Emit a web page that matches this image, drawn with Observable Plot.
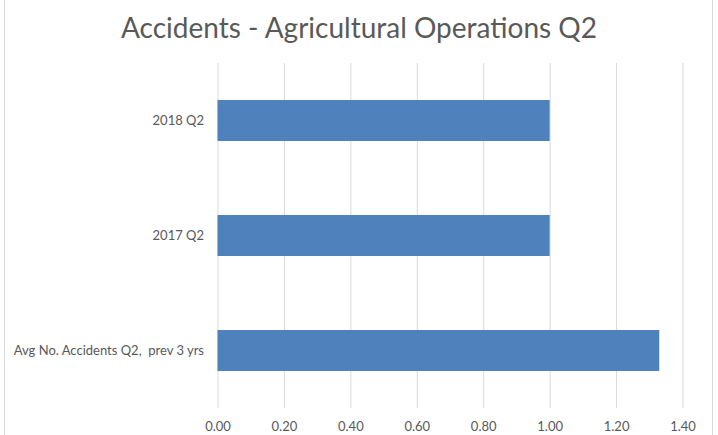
<!DOCTYPE html>
<html>
<head>
<meta charset="utf-8">
<script src="https://cdn.jsdelivr.net/npm/d3@7"></script>
<script src="https://cdn.jsdelivr.net/npm/@observablehq/plot@0.6"></script>
<style>
  html, body { margin: 0; padding: 0; background: #fff; }
  #wrap { position: relative; width: 718px; height: 435px; overflow: hidden; background: #fff; }
  #frame { position: absolute; left: 4px; top: 0; width: 709px; height: 435px;
           border-left: 1px solid #d9d9d9; border-right: 1px solid #d9d9d9; box-sizing: border-box; }
  #title { position: absolute; left: 0; top: 0; width: 718px; height: 55px; text-align: center;
           font-family: Lato, "Open Sans", sans-serif; font-size: 28px; color: #595959; line-height: 55px; }
  #chart { position: absolute; left: 0; top: 55px; }
</style>
</head>
<body>
<div id="wrap">
  <div id="frame"></div>
  <div id="title">Accidents - Agricultural Operations Q2</div>
  <div id="chart"></div>
</div>
<script>
const categories = ["2018 Q2", "2017 Q2", "Avg No. Accidents Q2,  prev 3 yrs"];
const values = [1.00, 1.00, 1.33];
const xTicks = [0, 0.2, 0.4, 0.6, 0.8, 1.0, 1.2, 1.4];

const data = categories.map((c, i) => ({category: c, value: values[i]}));

const chart = Plot.plot({
  width: 718,
  height: 380,
  marginLeft: 217.5,
  marginRight: 35.5,
  marginTop: 8,
  marginBottom: 27,
  style: {fontFamily: "Lato, 'Open Sans', sans-serif", fontSize: "13px", color: "#595959", background: "transparent"},
  x: {domain: [0, 1.4], ticks: xTicks, tickFormat: d => d.toFixed(2), label: null},
  y: {domain: categories, paddingInner: 0.643, paddingOuter: 0.3215, label: null},
  marks: [
    Plot.gridX(xTicks, {stroke: "#d9d9d9", strokeOpacity: 1, strokeWidth: 1}),
    Plot.barX(data, {x: "value", y: "category", fill: "#4f81bd"}),
    Plot.axisX({ticks: xTicks, tickFormat: d => d.toFixed(2), tickSize: 0, tickPadding: 13, label: null, fill: "#595959"}),
    Plot.axisY({tickSize: 0, tickPadding: 14, label: null, fill: "#595959"})
  ]
});
document.getElementById("chart").appendChild(chart);
</script>
</body>
</html>
